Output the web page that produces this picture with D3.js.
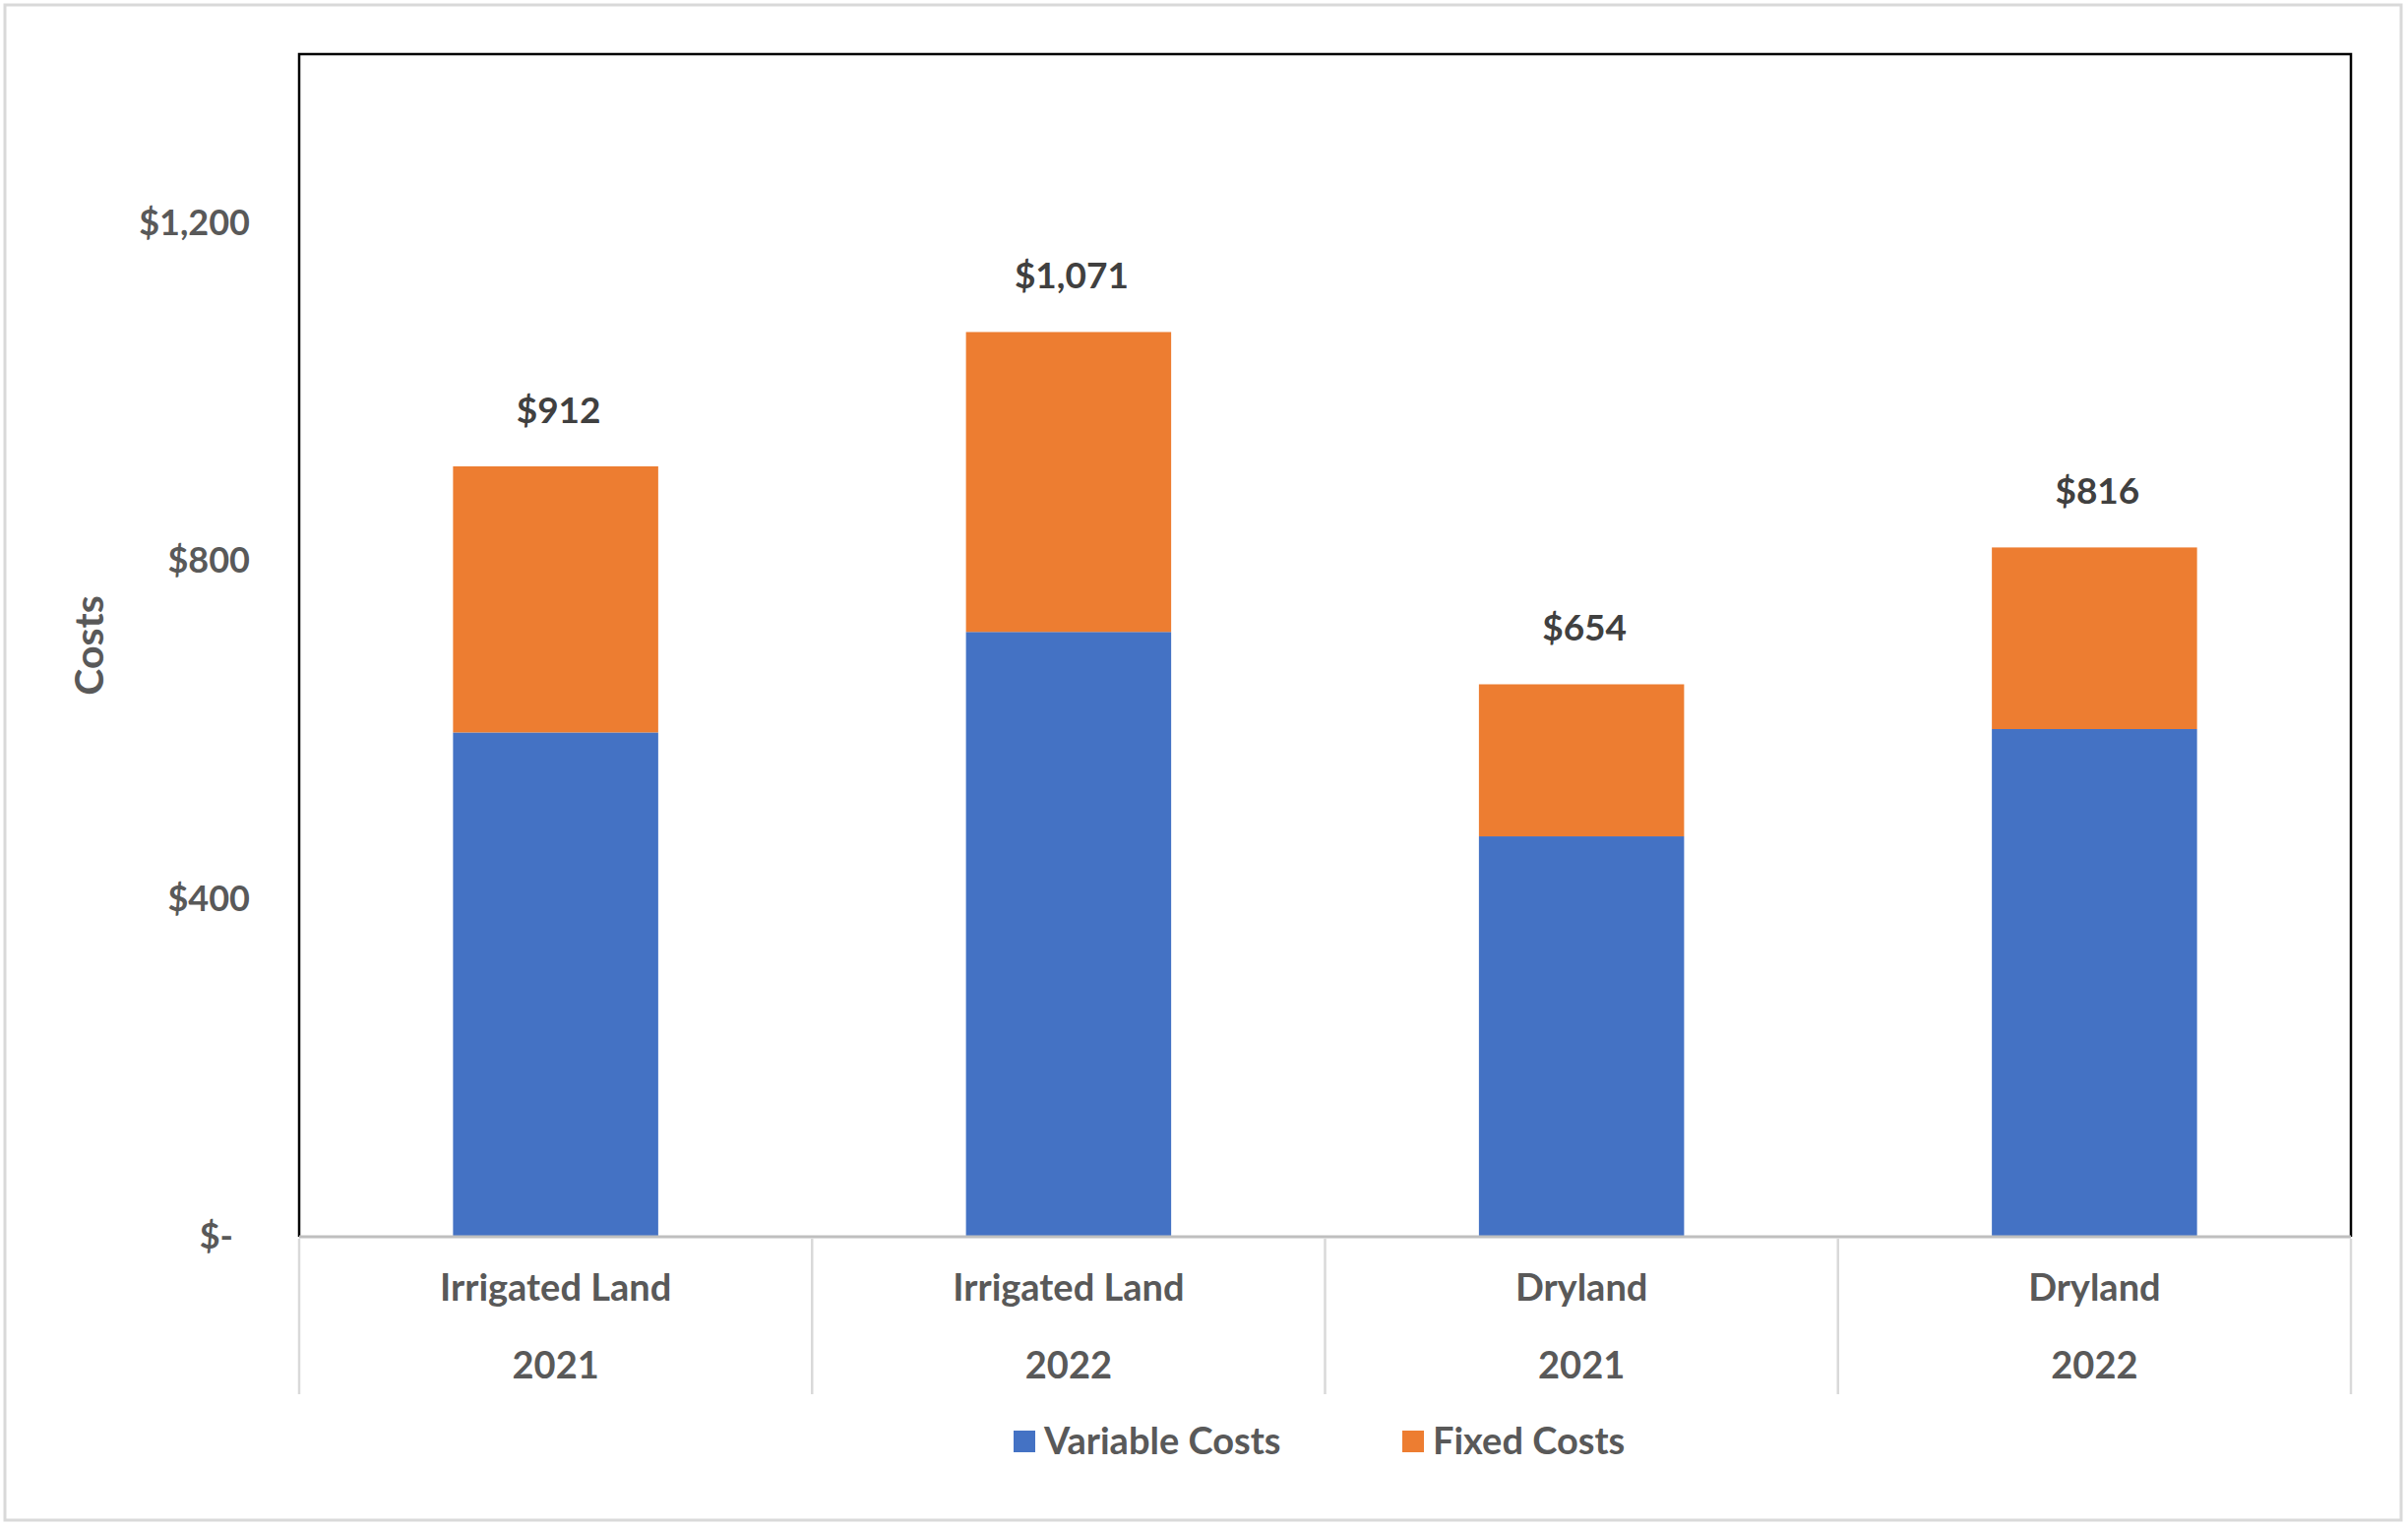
<!DOCTYPE html>
<html lang="en">
<head>
<meta charset="utf-8">
<title>Costs</title>
<script src="https://cdn.jsdelivr.net/npm/d3@7"></script>
<style>
body { margin: 0; background: #fff; }
text { font-family: Lato, "Open Sans", sans-serif; font-weight: bold; }
</style>
</head>
<body>
<div id="chart"></div>
<script>
// data
var lands = ["Irrigated Land", "Irrigated Land", "Dryland", "Dryland"];
var years = ["2021", "2022", "2021", "2022"];
var variableCosts = [597, 716, 474, 601];
var fixedCosts = [315, 355, 180, 215];
var totalLabels = ["$912", "$1,071", "$654", "$816"];
var yTicks = [0, 400, 800, 1200];
var seriesNames = ["Variable Costs", "Fixed Costs"];
var seriesColors = ["#4472C4", "#ED7D31"];

var width = 2447, height = 1553;
var plot = {left: 304, right: 2389, top: 55, bottom: 1257};

var svg = d3.select("#chart").append("svg")
    .attr("width", width)
    .attr("height", height);

// outer chart border
svg.append("rect")
    .attr("x", 5).attr("y", 5)
    .attr("width", 2435).attr("height", 1540)
    .attr("fill", "#fff")
    .attr("stroke", "#d9d9d9")
    .attr("stroke-width", 3);

var keys = lands.map(function (d, i) { return i; });

var x = d3.scaleBand()
    .domain(keys)
    .range([plot.left, plot.right])
    .paddingInner(0.6)
    .paddingOuter(0.3);

var y = d3.scaleLinear()
    .domain([0, 1400])
    .range([plot.bottom, plot.top]);

var rows = keys.map(function (i) {
    return {key: i, v: variableCosts[i], f: fixedCosts[i]};
});
var stacked = d3.stack().keys(["v", "f"])(rows);

// bars
svg.append("g").selectAll("g")
    .data(stacked)
    .join("g")
    .attr("fill", function (d, i) { return seriesColors[i]; })
    .selectAll("rect")
    .data(function (d) { return d; })
    .join("rect")
    .attr("x", function (d) { return x(d.data.key); })
    .attr("y", function (d) { return y(d[1]); })
    .attr("width", x.bandwidth())
    .attr("height", function (d) { return y(d[0]) - y(d[1]); });

// total labels
svg.append("g").selectAll("text")
    .data(stacked[1])
    .join("text")
    .attr("x", function (d) { return x(d.data.key) + x.bandwidth() / 2 + 3; })
    .attr("y", function (d) { return y(d[1]) - 57; })
    .attr("dy", "0.35em")
    .attr("text-anchor", "middle")
    .attr("fill", "#404040")
    .style("font-size", "37px")
    .text(function (d, i) { return totalLabels[i]; });

// plot area frame
svg.append("path")
    .attr("d", "M" + plot.left + "," + plot.bottom + "V" + plot.top + "H" + plot.right + "V" + plot.bottom)
    .attr("fill", "none")
    .attr("stroke", "#000")
    .attr("stroke-width", 2.5);

// y axis
var yAxis = svg.append("g")
    .attr("transform", "translate(" + (plot.left - 50) + ",0)")
    .call(d3.axisLeft(y)
        .tickValues(yTicks)
        .tickSize(0)
        .tickPadding(0)
        .tickFormat(function (d) { return d === 0 ? "$-" : "$" + d3.format(",")(d); }));
yAxis.select(".domain").remove();
yAxis.selectAll("text")
    .attr("fill", "#595959")
    .attr("dx", function (d) { return d === 0 ? -17 : 0; })
    .style("font-size", "36px")
    .style("font-family", "Lato, sans-serif");

// y axis title
svg.append("text")
    .attr("transform", "translate(91,656) rotate(-90)")
    .attr("dy", "0.35em")
    .attr("text-anchor", "middle")
    .attr("fill", "#595959")
    .style("font-size", "41px")
    .text("Costs");

// category axis: baseline, dividers, two label rows
var edges = d3.range(lands.length + 1).map(function (i) {
    return plot.left + i * x.step();
});
svg.append("g").selectAll("line")
    .data(edges)
    .join("line")
    .attr("x1", function (d) { return d; })
    .attr("x2", function (d) { return d; })
    .attr("y1", plot.bottom + 2)
    .attr("y2", 1417)
    .attr("stroke", "#d9d9d9")
    .attr("stroke-width", 2.5);

svg.append("line")
    .attr("x1", plot.left).attr("x2", plot.right)
    .attr("y1", plot.bottom).attr("y2", plot.bottom)
    .attr("stroke", "#bfbfbf")
    .attr("stroke-width", 3);

var cats = svg.append("g").selectAll("g")
    .data(keys)
    .join("g")
    .attr("transform", function (i) { return "translate(" + (x(i) + x.bandwidth() / 2) + ",0)"; });
cats.append("text")
    .attr("y", 1309)
    .attr("dy", "0.35em")
    .attr("text-anchor", "middle")
    .attr("fill", "#595959")
    .style("font-size", "38px")
    .text(function (i) { return lands[i]; });
cats.append("text")
    .attr("y", 1388)
    .attr("dy", "0.35em")
    .attr("text-anchor", "middle")
    .attr("fill", "#595959")
    .style("font-size", "38px")
    .text(function (i) { return years[i]; });

// legend
var legendX = [1030, 1425];
var legend = svg.append("g").selectAll("g")
    .data(seriesNames)
    .join("g")
    .attr("transform", function (d, i) { return "translate(" + legendX[i] + ",1465)"; });
legend.append("rect")
    .attr("x", 0).attr("y", -11)
    .attr("width", 22).attr("height", 22)
    .attr("fill", function (d, i) { return seriesColors[i]; });
legend.append("text")
    .attr("x", 31)
    .attr("dy", "0.35em")
    .attr("fill", "#595959")
    .style("font-size", "38px")
    .text(function (d) { return d; });
</script>
</body>
</html>
